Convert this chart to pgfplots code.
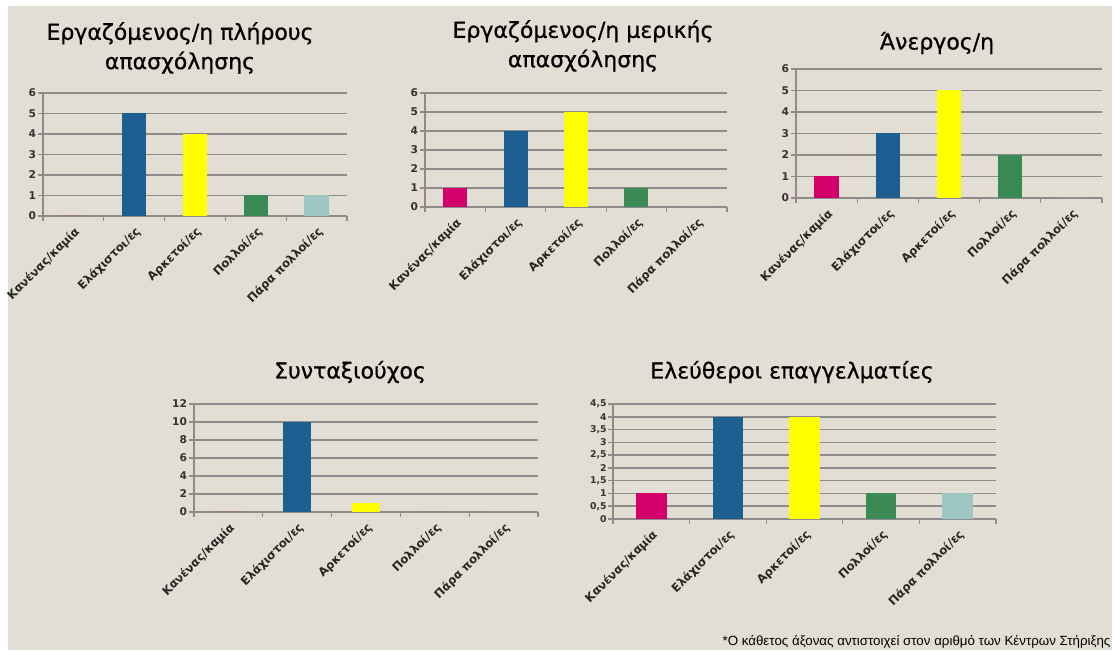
\documentclass[border=0pt]{standalone}
\usepackage{fontspec}
\setmainfont{DejaVu Sans}
\newfontfamily\titlefont[FakeBold=0.7]{DejaVu Sans}
\newfontfamily\notefont{Liberation Sans}
\usepackage{pgfplots}
\pgfplotsset{compat=1.18}
\definecolor{bgc}{HTML}{E3DED3}
\definecolor{gridc}{HTML}{8C8C8C}
\definecolor{cpink}{HTML}{D3006B}
\definecolor{cblue}{HTML}{1E5F92}
\definecolor{cyellow}{HTML}{FFFF00}
\definecolor{cgreen}{HTML}{3B8954}
\definecolor{cteal}{HTML}{9EC7C4}
\pgfplotsset{
  chart/.style={
    scale only axis, anchor=south west,
    xmin=-0.5, xmax=4.5, ymin=0,
    axis x line*=bottom, axis y line*=left,
    axis line style={draw=gridc, line width=1.1pt},
    ymajorgrids, grid style={draw=gridc, line width=1.1pt},
    xtick={0,...,4},
    xticklabels={Κανένας/καμία, Ελάχιστοι/ες, Αρκετοί/ες, Πολλοί/ες, Πάρα πολλοί/ες},
    major x tick style={draw=none},
    minor xtick={-0.5,0.5,...,4.5},
    minor x tick style={draw=gridc, line width=0.8pt},
    minor tick length=3.5pt,
    major tick length=3.5pt,
    tick align=outside,
    y tick style={draw=gridc, line width=1.1pt},
    xticklabel style={rotate=45, anchor=north east, font=\fontsize{8.75}{10}\selectfont\bfseries, text=black!85, inner sep=2.5pt},
    yticklabel style={font=\fontsize{8}{9}\selectfont\bfseries, text=black!80, inner sep=1.5pt},
    /pgf/number format/assume math mode=true,
    /pgf/number format/use comma,
  },
  bars/.style={ybar, bar width=0.4, draw=none, fill=#1},
}
\begin{document}
\begin{tikzpicture}
\useasboundingbox (0,0) rectangle (835.5pt,487.5pt);
\fill[white] (0,0) rectangle (835.5pt,487.5pt);
\fill[bgc] (6pt,0) rectangle (834pt,483pt);

% Chart 1
\begin{axis}[chart, at={(32.25pt,325.5pt)}, width=228pt, height=92.25pt, ymax=6, ytick={0,...,6}]
\addplot[bars=cpink] coordinates {(0,0)};
\addplot[bars=cblue] coordinates {(1,5)};
\addplot[bars=cyellow] coordinates {(2,4)};
\addplot[bars=cgreen] coordinates {(3,1)};
\addplot[bars=cteal] coordinates {(4,1)};
\end{axis}

% Chart 2
\begin{axis}[chart, at={(318.75pt,332.25pt)}, width=226.5pt, height=85.5pt, ymax=6, ytick={0,...,6}]
\addplot[bars=cpink] coordinates {(0,1)};
\addplot[bars=cblue] coordinates {(1,4)};
\addplot[bars=cyellow] coordinates {(2,5)};
\addplot[bars=cgreen] coordinates {(3,1)};
\addplot[bars=cteal] coordinates {(4,0)};
\end{axis}

% Chart 3
\begin{axis}[chart, at={(597pt,339pt)}, width=229.5pt, height=96.75pt, ymax=6, ytick={0,...,6}]
\addplot[bars=cpink] coordinates {(0,1)};
\addplot[bars=cblue] coordinates {(1,3)};
\addplot[bars=cyellow] coordinates {(2,5)};
\addplot[bars=cgreen] coordinates {(3,2)};
\addplot[bars=cteal] coordinates {(4,0)};
\end{axis}

% Chart 4
\begin{axis}[chart, at={(145.5pt,103.5pt)}, width=258pt, height=81pt, ymax=12, ytick={0,2,...,12}]
\addplot[bars=cpink] coordinates {(0,0)};
\addplot[bars=cblue] coordinates {(1,10)};
\addplot[bars=cyellow] coordinates {(2,1)};
\addplot[bars=cgreen] coordinates {(3,0)};
\addplot[bars=cteal] coordinates {(4,0)};
\end{axis}

% Chart 5
\begin{axis}[chart, at={(459.75pt,98.25pt)}, width=287.25pt, height=86.25pt, ymax=4.5, ytick={0,0.5,...,4.5},
  yticklabel style={font=\fontsize{7}{7}\selectfont\bfseries, inner sep=1pt}]
\addplot[bars=cpink] coordinates {(0,1)};
\addplot[bars=cblue] coordinates {(1,4)};
\addplot[bars=cyellow] coordinates {(2,4)};
\addplot[bars=cgreen] coordinates {(3,1)};
\addplot[bars=cteal] coordinates {(4,1)};
\end{axis}

% Titles
\tikzset{ttl/.style={font=\titlefont\fontsize{16.5}{22}\selectfont, align=center, text=black}}
\node[ttl] at (135pt,451.5pt) {Εργαζόμενος/η πλήρους\\απασχόλησης};
\node[ttl] at (437.25pt,453pt) {Εργαζόμενος/η μερικής\\απασχόλησης};
\node[ttl] at (702.75pt,455.25pt) {Άνεργος/η};
\node[ttl] at (262.5pt,208.5pt) {Συνταξιούχος};
\node[ttl] at (594pt,208.5pt) {Ελεύθεροι επαγγελματίες};
\node[font=\notefont\fontsize{10}{11}\selectfont, anchor=east, inner sep=0pt] at (833pt,6pt) {*Ο κάθετος άξονας αντιστοιχεί στον αριθμό των Κέντρων Στήριξης};
\end{tikzpicture}
\end{document}
